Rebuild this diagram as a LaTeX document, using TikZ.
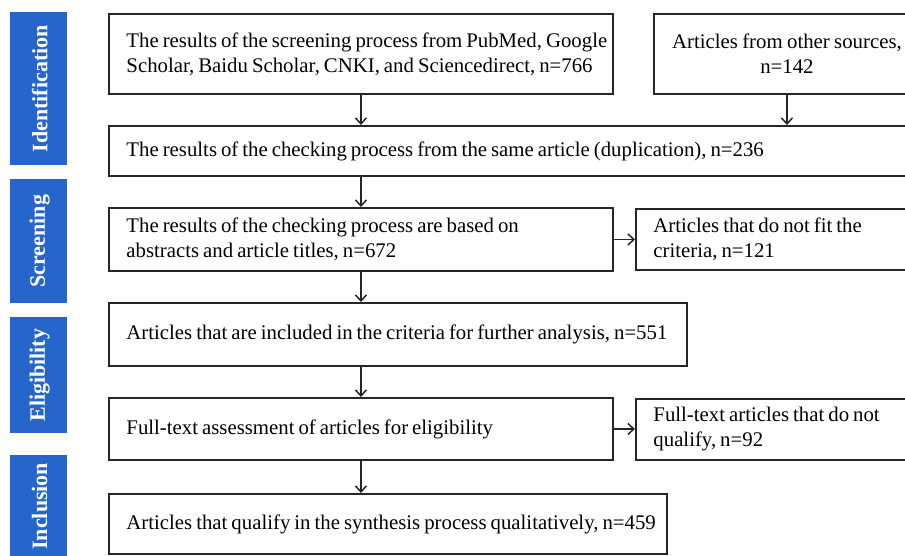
\documentclass[tikz,border=0pt]{standalone}
\usepackage{fontspec}
\setmainfont{Liberation Serif}
\usetikzlibrary{arrows.meta}
\definecolor{sideblue}{RGB}{38,102,204}
\newcommand\mytightspace{\spaceskip=4pt plus 1.5pt minus 0.5pt\relax}
\newcommand\myindent{\leftskip=17pt\relax}
\begin{document}
\begin{tikzpicture}[x=1pt,y=-1pt,
  box/.style={draw=black!85, line width=1.9pt, anchor=north west, inner sep=0pt,
    font=\fontsize{20.8}{25}\selectfont},
  lbox/.style={box, align=left, execute at begin node={\myindent\mytightspace}},
  cbox/.style={box, align=center, execute at begin node={\mytightspace}},
  side/.style={fill=sideblue, draw=none, anchor=north west, inner sep=0pt},
  sidetext/.style={text=white, font=\bfseries\fontsize{22}{26}\selectfont, rotate=90},
  arr/.style={draw=black!85, line width=1.5pt, -{Straight Barb[length=6pt,width=11pt,line width=1.5pt]}}]
\useasboundingbox (0,0) rectangle (905,555);
% sidebars
\node[side, minimum width=57pt, minimum height=153pt] (s1) at (10,12) {};
\node[side, minimum width=57pt, minimum height=124pt] (s2) at (10,179) {};
\node[side, minimum width=57pt, minimum height=116pt] (s3) at (10,317) {};
\node[side, minimum width=57pt, minimum height=102pt] (s4) at (10,455) {};
\node[sidetext] (t1) at ([xshift=1pt]s1.center) {Identification};
\node[sidetext] (t2) at ([xshift=1pt]s2.center) {Screening};
\node[sidetext] (t3) at ([xshift=1pt]s3.center) {Eligibility};
\node[sidetext] (t4) at ([xshift=1pt]s4.center) {Inclusion};
% boxes
\node[lbox, minimum width=504pt, minimum height=80pt, text width=503pt] (b1) at (108,13)
  {The results of the screening process from PubMed, Google\\Scholar, Baidu Scholar, CNKI, and Sciencedirect, n=766};
\node[cbox, minimum width=266pt, minimum height=80pt, text width=250pt] (b2) at (653,13)
  {Articles from other sources,\\n=142};
\node[lbox, minimum width=810pt, minimum height=50pt, text width=809pt] (b3) at (108,125)
  {The results of the checking process from the same article (duplication), n=236};
\node[lbox, minimum width=504pt, minimum height=63pt, text width=503pt] (b4) at (108,207)
  {The results of the checking process are based on\\abstracts and article titles, n=672};
\node[lbox, minimum width=285pt, minimum height=61pt, text width=284pt] (b5) at (635,208)
  {Articles that do not fit the\\criteria, n=121};
\node[lbox, minimum width=578pt, minimum height=63pt, text width=577pt] (b6) at (108,302)
  {Articles that are included in the criteria for further analysis, n=551};
\node[lbox, minimum width=504pt, minimum height=62pt, text width=503pt] (b7) at (108,397)
  {Full-text assessment of articles for eligibility};
\node[lbox, minimum width=285pt, minimum height=61pt, text width=284pt] (b8) at (635,398)
  {Full-text articles that do not\\qualify, n=92};
\node[lbox, minimum width=558pt, minimum height=60pt, text width=557pt] (b9) at (108,493)
  {Articles that qualify in the synthesis process qualitatively, n=459};
% arrows
\draw[arr] (b1.south) -- (b1.south |- b3.north);
\draw[arr] (b2.south) -- (b2.south |- b3.north);
\draw[arr] (b1.south |- b3.south) -- (b4.north);
\draw[arr] (b4.east) -- (b4.east -| b5.west);
\draw[arr] (b4.south) -- (b4.south |- b6.north);
\draw[arr] (b7.north |- b6.south) -- (b7.north);
\draw[arr] (b7.east) -- (b7.east -| b8.west);
\draw[arr] (b7.south) -- (b7.south |- b9.north);
\end{tikzpicture}
\end{document}
